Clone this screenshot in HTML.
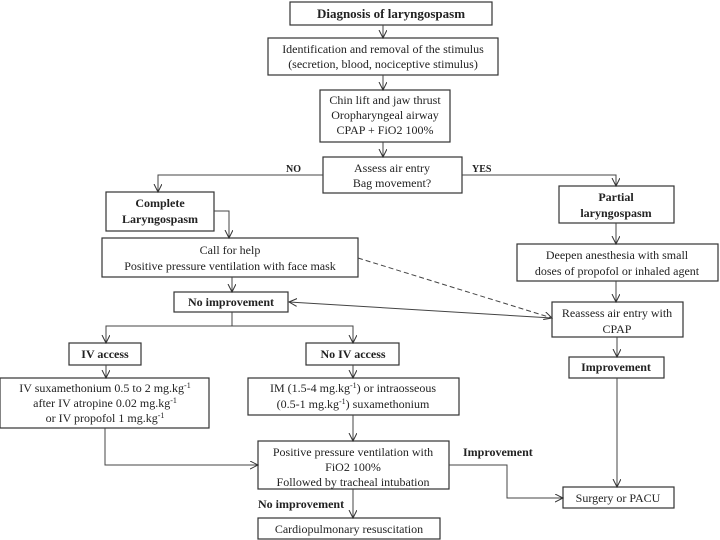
<!DOCTYPE html>
<html><head><style>body{margin:0;background:#fff}svg{display:block}text{font-family:"Liberation Serif",serif;font-size:12px;fill:#222}.b{font-weight:bold}</style></head><body>
<svg width="720" height="540" viewBox="0 0 720 540">
<defs><marker id="a" markerWidth="10" markerHeight="10" refX="8" refY="4" orient="auto" markerUnits="userSpaceOnUse"><path d="M0,0 L8,4 L0,8" fill="none" stroke="#333" stroke-width="1"/></marker></defs>
<g fill="none" stroke="#333" stroke-width="1.2">
<rect x="290" y="2" width="202" height="23"/>
<rect x="268" y="38" width="230" height="37"/>
<rect x="320" y="90" width="130" height="52"/>
<rect x="323" y="157" width="139" height="36"/>
<rect x="106" y="192" width="108" height="39"/>
<rect x="559" y="186" width="115" height="37"/>
<rect x="102" y="238" width="256" height="39"/>
<rect x="517" y="244" width="201" height="37"/>
<rect x="174" y="292" width="114" height="20"/>
<rect x="552" y="302" width="131" height="35"/>
<rect x="69" y="343" width="72" height="22"/>
<rect x="306" y="343" width="93" height="22"/>
<rect x="569" y="357" width="95" height="21"/>
<rect x="0" y="378" width="209" height="50"/>
<rect x="248" y="378" width="211" height="37"/>
<rect x="258" y="441" width="191" height="48"/>
<rect x="563" y="487" width="111" height="21"/>
<rect x="258" y="518" width="182" height="21"/>
</g>
<g fill="none" stroke="#444" stroke-width="1" marker-end="url(#a)">
<path d="M383,25 V38"/><path d="M383,75 V90"/><path d="M383,142 V157"/>
<path d="M323,175 H158 V192"/><path d="M462,175 H616 V186"/>
<path d="M214,211 H229 V238"/><path d="M616,223 V244"/><path d="M616,281 V302"/>
<path d="M232,277 V292"/>
<path d="M232,312 V326 H106 V343"/><path d="M232,326 H353 V343"/>
<path d="M106,365 V378"/><path d="M353,365 V378"/><path d="M617,337 V357"/>
<path d="M353,415 V441"/><path d="M105,428 V465 H258"/>
<path d="M449,465 H507 V498 H563"/><path d="M617,378 V487"/>
<path d="M353,489 V518"/>
<path d="M358,258 L552,318" stroke-dasharray="5,3"/>
<path d="M552,318 L289,302"/>
</g>
<g text-anchor="middle">
<text x="391" y="18" class="b" style="font-size:13px">Diagnosis of laryngospasm</text>
<text x="383" y="53">Identification and removal of the stimulus</text>
<text x="383" y="68">(secretion, blood, nociceptive stimulus)</text>
<text x="385" y="104">Chin lift and jaw thrust</text>
<text x="385" y="119">Oropharyngeal airway</text>
<text x="385" y="134">CPAP + FiO2 100%</text>
<text x="392" y="172">Assess air entry</text>
<text x="392" y="187">Bag movement?</text>
<text x="160" y="207" class="b">Complete</text>
<text x="160" y="223" class="b">Laryngospasm</text>
<text x="616" y="201" class="b">Partial</text>
<text x="616" y="217" class="b">laryngospasm</text>
<text x="230" y="254">Call for help</text>
<text x="230" y="270">Positive pressure ventilation with face mask</text>
<text x="617" y="259">Deepen anesthesia with small</text>
<text x="617" y="275">doses of propofol or inhaled agent</text>
<text x="231" y="306" class="b">No improvement</text>
<text x="617" y="317">Reassess air entry with</text>
<text x="617" y="333">CPAP</text>
<text x="105" y="358" class="b">IV access</text>
<text x="353" y="358" class="b">No IV access</text>
<text x="616" y="371" class="b">Improvement</text>
<text x="105" y="392">IV suxamethonium 0.5 to 2 mg.kg<tspan dy="-4" font-size="8">-1</tspan></text>
<text x="105" y="407">after IV atropine 0.02 mg.kg<tspan dy="-4" font-size="8">-1</tspan></text>
<text x="105" y="422">or IV propofol 1 mg.kg<tspan dy="-4" font-size="8">-1</tspan></text>
<text x="353" y="392">IM (1.5-4 mg.kg<tspan dy="-4" font-size="8">-1</tspan><tspan dy="4">) or intraosseous</tspan></text>
<text x="353" y="408">(0.5-1 mg.kg<tspan dy="-4" font-size="8">-1</tspan><tspan dy="4">) suxamethonium</tspan></text>
<text x="353" y="456">Positive pressure ventilation with</text>
<text x="353" y="471">FiO2 100%</text>
<text x="353" y="486">Followed by tracheal intubation</text>
<text x="618" y="502">Surgery or PACU</text>
<text x="349" y="533">Cardiopulmonary resuscitation</text>
</g>
<text x="286" y="172" class="b" style="font-size:10px">NO</text>
<text x="472" y="172" class="b" style="font-size:10px">YES</text>
<text x="463" y="456" class="b">Improvement</text>
<text x="258" y="508" class="b">No improvement</text>
</svg>
</body></html>
